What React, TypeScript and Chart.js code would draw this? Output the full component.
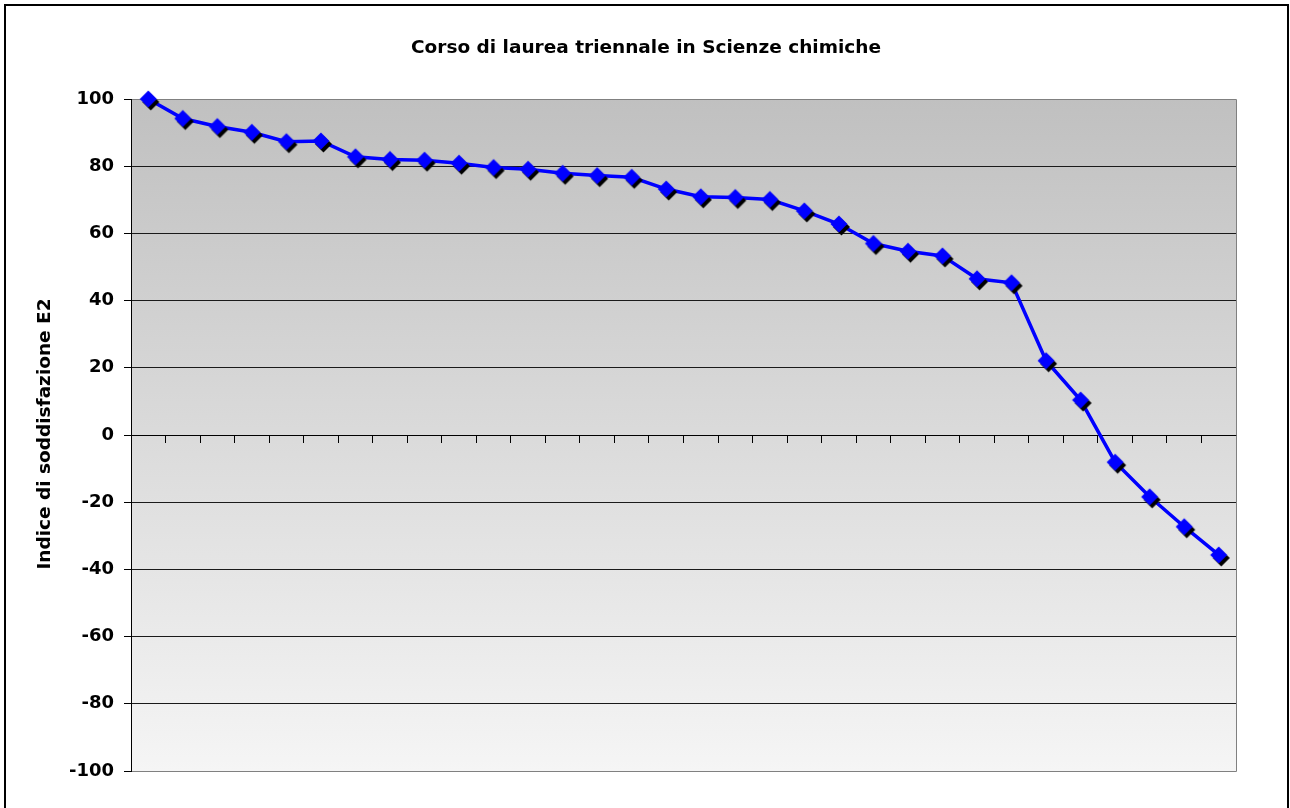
import React, { useEffect, useRef } from "react";
import { Chart, registerables } from "chart.js";

Chart.register(...registerables);

const titleText = "Corso di laurea triennale in Scienze chimiche";
const yAxisTitle = "Indice di soddisfazione E2";

const categories = [
  "1", "2", "3", "4", "5", "6", "7", "8", "9", "10", "11", "12", "13", "14", "15", "16",
  "17", "18", "19", "20", "21", "22", "23", "24", "25", "26", "27", "28", "29", "30", "31", "32",
];

const values = [
  100, 94.2, 91.8, 90.1, 87.3, 87.5, 82.8, 82.0, 81.8, 80.9, 79.6, 79.1, 77.9, 77.2, 76.7, 73.2,
  70.9, 70.7, 70.1, 66.7, 62.8, 57.0, 54.7, 53.3, 46.5, 45.3, 22.1, 10.4, -8.1, -18.4, -27.3, -35.7,
];

const yMin = -100;
const yMax = 100;
const yStep = 20;

const FONT = "'DejaVu Sans', Verdana, sans-serif";

function makeMarker(): HTMLCanvasElement {
  const c = document.createElement("canvas");
  c.width = 30;
  c.height = 30;
  const g = c.getContext("2d")!;
  const r = 8.5;
  const diamond = (cx: number, cy: number, color: string) => {
    g.beginPath();
    g.moveTo(cx, cy - r);
    g.lineTo(cx + r, cy);
    g.lineTo(cx, cy + r);
    g.lineTo(cx - r, cy);
    g.closePath();
    g.fillStyle = color;
    g.fill();
  };
  diamond(17.5, 18, "#000000");
  diamond(15, 15, "#0000FF");
  return c;
}

const decorPlugin = {
  id: "decor",
  beforeDraw(chart: any) {
    const { ctx, chartArea: a } = chart;
    ctx.save();
    const grad = ctx.createLinearGradient(0, a.top, 0, a.bottom);
    grad.addColorStop(0, "#C0C0C0");
    grad.addColorStop(1, "#F5F5F5");
    ctx.fillStyle = grad;
    ctx.fillRect(a.left, a.top, a.right - a.left, a.bottom - a.top);
    ctx.restore();
  },
  beforeDatasetsDraw(chart: any) {
    const { ctx, chartArea: a } = chart;
    ctx.save();
    ctx.strokeStyle = "#808080";
    ctx.lineWidth = 1;
    ctx.beginPath();
    ctx.moveTo(Math.round(a.left) + 0.5, Math.round(a.top) + 0.5);
    ctx.lineTo(Math.round(a.right) + 0.5, Math.round(a.top) + 0.5);
    ctx.lineTo(Math.round(a.right) + 0.5, Math.round(a.bottom) + 0.5);
    ctx.lineTo(Math.round(a.left) + 0.5, Math.round(a.bottom) + 0.5);
    ctx.stroke();
    ctx.strokeStyle = "#000000";
    ctx.beginPath();
    ctx.moveTo(Math.round(a.left) + 0.5, Math.round(a.top));
    ctx.lineTo(Math.round(a.left) + 0.5, Math.round(a.bottom) + 1);
    ctx.stroke();
    ctx.restore();
  },
  afterDraw(chart: any) {
    const { ctx } = chart;
    ctx.save();
    ctx.fillStyle = "#000000";
    ctx.font = `bold 18.5px ${FONT}`;
    ctx.textAlign = "center";
    ctx.textBaseline = "middle";
    ctx.fillText(titleText, 646, 48);
    ctx.translate(45, 434);
    ctx.rotate(-Math.PI / 2);
    ctx.font = `bold 18.5px ${FONT}`;
    ctx.fillText(yAxisTitle, 0, 0);
    ctx.restore();
  },
};

export default function App() {
  const ref = useRef<HTMLCanvasElement | null>(null);

  useEffect(() => {
    if (!ref.current) return;
    const marker = makeMarker();
    const chart = new Chart(ref.current, {
      type: "line",
      data: {
        labels: categories,
        datasets: [
          {
            data: values,
            borderColor: "#0000FF",
            borderWidth: 3.5,
            tension: 0,
            pointStyle: marker as any,
            pointRadius: 9,
            pointHoverRadius: 9,
            clip: false as any,
          },
        ],
      },
      options: {
        animation: false,
        responsive: false,
        devicePixelRatio: 1,
        events: [],
        layout: { padding: { top: 99, right: 54, bottom: 37, left: 0 } },
        plugins: {
          legend: { display: false },
          title: { display: false },
          tooltip: { enabled: false },
        },
        scales: {
          x: {
            type: "category",
            position: { y: 0 } as any,
            offset: true,
            grid: {
              offset: true,
              drawOnChartArea: false,
              drawTicks: true,
              tickLength: 7,
              color: "#000000",
              tickColor: "#000000",
            },
            border: { display: true, color: "#000000", width: 1 },
            ticks: { display: false },
          },
          y: {
            min: yMin,
            max: yMax,
            afterFit: (s: any) => {
              s.width = 131;
            },
            ticks: {
              stepSize: yStep,
              padding: 10,
              color: "#000000",
              font: { family: FONT, size: 18, weight: "bold" },
            },
            grid: {
              color: (c: any) =>
                c.tick && (c.tick.value === yMax || c.tick.value === yMin) ? "#808080" : "#1a1a1a",
              tickColor: "#000000",
              tickLength: 7,
              lineWidth: 1,
            },
            border: { display: true, color: "#000000", width: 1 },
          },
        },
      },
      plugins: [decorPlugin],
    });
    return () => chart.destroy();
  }, []);

  return (
    <div
      style={{
        position: "fixed",
        left: 0,
        top: 0,
        width: 1290,
        height: 808,
        background: "#ffffff",
        overflow: "hidden",
      }}
    >
      <canvas ref={ref} width={1290} height={808} style={{ display: "block", width: 1290, height: 808 }} />
      <div
        style={{
          position: "absolute",
          left: 4,
          top: 4,
          width: 1285,
          height: 830,
          boxSizing: "border-box",
          border: "2px solid #000000",
          pointerEvents: "none",
        }}
      />
    </div>
  );
}
